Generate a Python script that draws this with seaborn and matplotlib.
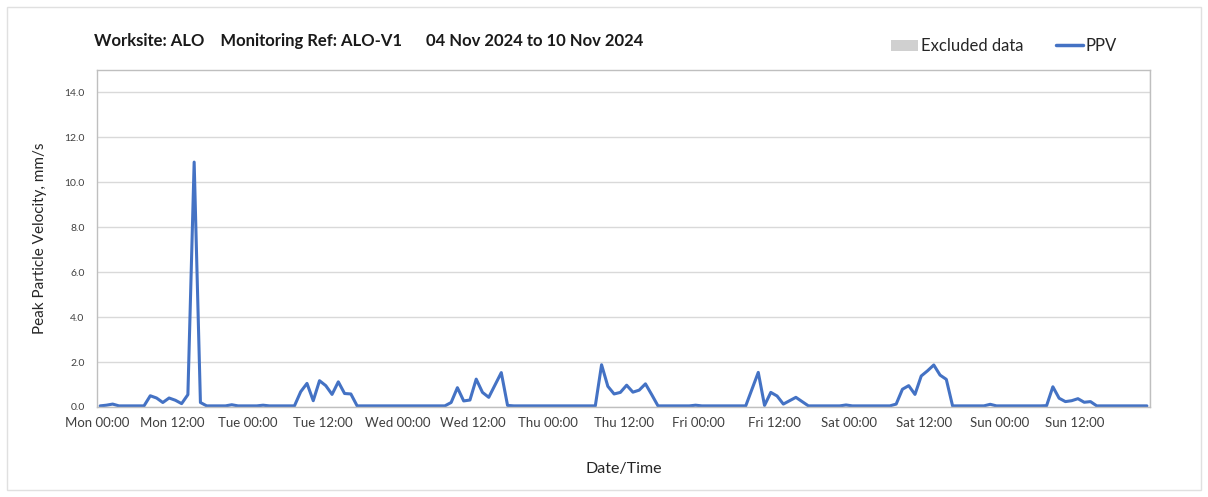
import numpy as np
import pandas as pd
import matplotlib
matplotlib.use("Agg")
import matplotlib.pyplot as plt
import matplotlib.dates as mdates
from matplotlib.patches import Patch, Rectangle
from matplotlib.lines import Line2D
import seaborn as sns

# hourly PPV readings, one list per day (mm/s)
mon = [0.05, 0.08, 0.13, 0.05, 0.05, 0.05, 0.05, 0.05, 0.50, 0.40, 0.20, 0.40,
       0.30, 0.15, 0.55, 10.90, 0.20, 0.05, 0.05, 0.05, 0.05, 0.10, 0.05, 0.05]
tue = [0.05, 0.05, 0.08, 0.05, 0.05, 0.05, 0.05, 0.05, 0.68, 1.05, 0.28, 1.17,
       0.95, 0.56, 1.12, 0.60, 0.58, 0.05, 0.05, 0.05, 0.05, 0.05, 0.05, 0.05]
wed = [0.05, 0.05, 0.05, 0.05, 0.05, 0.05, 0.05, 0.05, 0.20, 0.86, 0.27, 0.31,
       1.24, 0.65, 0.43, 0.98, 1.53, 0.07, 0.05, 0.05, 0.05, 0.05, 0.05, 0.05]
thu = [0.05, 0.05, 0.05, 0.05, 0.05, 0.05, 0.05, 0.05, 1.88, 0.92, 0.58, 0.65,
       0.97, 0.66, 0.75, 1.03, 0.55, 0.05, 0.05, 0.05, 0.05, 0.05, 0.05, 0.08]
fri = [0.05, 0.05, 0.05, 0.05, 0.05, 0.05, 0.05, 0.05, 0.80, 1.54, 0.07, 0.65,
       0.49, 0.13, 0.28, 0.43, 0.24, 0.05, 0.05, 0.05, 0.05, 0.05, 0.05, 0.09]
sat = [0.05, 0.05, 0.05, 0.05, 0.05, 0.05, 0.05, 0.13, 0.79, 0.95, 0.56, 1.38,
       1.61, 1.87, 1.42, 1.23, 0.05, 0.05, 0.05, 0.05, 0.05, 0.05, 0.12, 0.05]
sun = [0.05, 0.05, 0.05, 0.05, 0.05, 0.05, 0.05, 0.06, 0.90, 0.39, 0.24, 0.28,
       0.37, 0.21, 0.24, 0.05, 0.05, 0.05, 0.05, 0.05, 0.05, 0.05, 0.05, 0.05]

ppv = mon + tue + wed + thu + fri + sat + sun
times = pd.date_range("2024-11-04 00:30", periods=len(ppv), freq="h")
df = pd.DataFrame({"time": times, "ppv": ppv})

x_start = pd.Timestamp("2024-11-04 00:00")
x_end = pd.Timestamp("2024-11-11 00:00")
y_ticks = np.arange(0, 15, 2)

sns.set_style("white")
plt.rcParams["font.family"] = ["Lato", "DejaVu Sans"]

fig = plt.figure(figsize=(12.08, 4.97), dpi=100)
ax = fig.add_axes([0.0803, 0.1811, 0.8717, 0.6781])

blue = "#4472C4"
sns.lineplot(data=df, x="time", y="ppv", ax=ax, color=blue, linewidth=2.2)

ax.set_xlim(x_start, x_end)
ax.set_ylim(0, 15)

# 12 hourly ticks with labels, daily vertical grid
ax.set_xticks(pd.date_range(x_start, periods=14, freq="12h"))
ax.xaxis.set_major_formatter(mdates.DateFormatter("%a %H:%M"))
ax.xaxis.set_minor_locator(mdates.DayLocator())
ax.grid(which="minor", axis="x", color="#d9d9d9", linewidth=1)
ax.grid(which="major", axis="y", color="#d9d9d9", linewidth=1)
ax.tick_params(axis="x", which="major", length=4, color="#bfbfbf",
               labelsize=9.5, labelcolor="#404040", pad=3)
ax.tick_params(axis="x", which="minor", length=0)

ax.set_yticks(y_ticks)
ax.set_yticklabels([f"{v:.1f}" for v in y_ticks])
ax.tick_params(axis="y", length=4, color="#bfbfbf", labelsize=7.5,
               labelcolor="#404040", pad=5)
for s in ax.spines.values():
    s.set_color("#bfbfbf")
    s.set_linewidth(1)

ax.set_xlabel("Date/Time", fontsize=11.5, color="#262626", labelpad=24)
ax.set_ylabel("Peak Particle Velocity, mm/s", fontsize=11, color="#262626",
              labelpad=12)

fig.text(0.078, 0.918, "Worksite: ALO    Monitoring Ref: ALO-V1      "
         "04 Nov 2024 to 10 Nov 2024", fontsize=12, fontweight="bold",
         color="#1a1a1a", va="center")

handles = [Patch(facecolor="#d0d0d0", edgecolor="none", label="Excluded data"),
           Line2D([], [], color=blue, linewidth=2.5, label="PPV")]
fig.legend(handles=handles, loc="center right", bbox_to_anchor=(0.937, 0.907),
           ncol=2, frameon=False, fontsize=12, handlelength=1.6,
           handletextpad=0.15, columnspacing=2.0, labelcolor="#262626")

fig.patches.append(Rectangle((0.006, 0.014), 0.988, 0.972,
                             transform=fig.transFigure, fill=False,
                             edgecolor="#e0e0e0", linewidth=1))

fig.savefig("out.png", dpi=100)
